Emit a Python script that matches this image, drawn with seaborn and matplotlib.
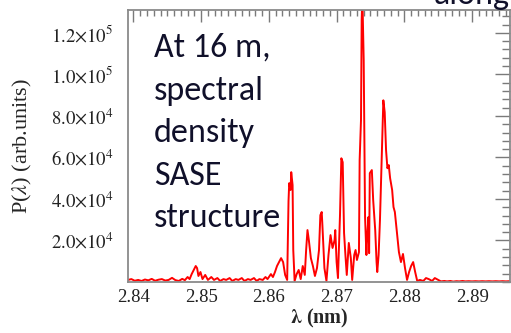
import matplotlib
matplotlib.use("Agg")
import matplotlib.pyplot as plt
import seaborn as sns
import numpy as np
import pandas as pd
from matplotlib.ticker import MultipleLocator, FixedLocator, FixedFormatter

# ---------------- data ----------------
wavelength_nm = [
    2.8392, 2.8397, 2.8402, 2.8407, 2.8412, 2.8417, 2.8422, 2.8427, 2.8432, 2.8437,
    2.8442, 2.8447, 2.8452, 2.8457, 2.8462, 2.8467, 2.8472, 2.8476, 2.8480, 2.8483,
    2.8486, 2.8489, 2.8492, 2.8494, 2.8496, 2.8499, 2.8502, 2.8506, 2.8510, 2.8515,
    2.8519, 2.8524, 2.8528, 2.8533, 2.8537, 2.8542, 2.8546, 2.8551, 2.8555, 2.8560,
    2.8564, 2.8569, 2.8573, 2.8578, 2.8582, 2.8586, 2.8591, 2.8595, 2.8598, 2.8603,
    2.8606, 2.8609, 2.8612, 2.8615, 2.8618, 2.8621, 2.8624, 2.8627, 2.8629, 2.8630,
    2.8632, 2.8633, 2.8635, 2.8636, 2.8638, 2.8641, 2.8644, 2.8647, 2.8650, 2.8653,
    2.8655, 2.8657, 2.8659, 2.8662, 2.8665, 2.8668, 2.8671, 2.8674, 2.8676, 2.8678,
    2.8679, 2.8682, 2.8685, 2.8688, 2.8691, 2.8694, 2.8697, 2.8698, 2.8700, 2.8702,
    2.8705, 2.8707, 2.8709, 2.8711, 2.8713, 2.8715, 2.8718, 2.8721, 2.8723, 2.8726,
    2.8728, 2.8730, 2.8733, 2.8734, 2.8736, 2.8737, 2.8738, 2.8740, 2.8741, 2.8742,
    2.8744, 2.8745, 2.8747, 2.8748, 2.8749, 2.8752, 2.8754, 2.8756, 2.8757, 2.8759,
    2.8760, 2.8762, 2.8764, 2.8766, 2.8769, 2.8771, 2.8773, 2.8775, 2.8777, 2.8779,
    2.8782, 2.8784, 2.8786, 2.8789, 2.8792, 2.8795, 2.8798, 2.8801, 2.8804, 2.8807,
    2.8810, 2.8813, 2.8816, 2.8819, 2.8823, 2.8828, 2.8832, 2.8836, 2.8841, 2.8845,
    2.8850, 2.8854, 2.8859, 2.8863, 2.8868, 2.8872, 2.8877, 2.8881, 2.8886, 2.8890,
    2.8895, 2.8900, 2.8905, 2.8910, 2.8915, 2.8920, 2.8925, 2.8930, 2.8935, 2.8940,
    2.8945, 2.8950, 2.8956,
]
power_arb = [
    1000, 1400, 600, 1000, 500, 1200, 800, 1500, 600, 1100,
    1400, 700, 1000, 2000, 900, 500, 1500, 900, 2400, 1400,
    3800, 5800, 7700, 6700, 2900, 4800, 1400, 3400, 1000, 2400,
    1000, 1900, 500, 1400, 1000, 1900, 500, 1400, 1000, 1900,
    500, 1400, 1000, 1900, 500, 1400, 1000, 2400, 1400, 3800,
    2400, 4800, 7700, 9600, 11500, 9600, 3400, 1000, 39000, 47600,
    44300, 52900, 46700, 15400, 500, 3800, 5800, 1400, 7700, 3400,
    15400, 25000, 20200, 11500, 7700, 2900, 6700, 15400, 32200, 33700,
    27400, 6700, 500, 13000, 22600, 16400, 20200, 25000, 9600, 1900,
    32200, 59600, 57700, 23600, 13000, 3400, 18800, 11500, 1000, 13000,
    15400, 10600, 14400, 58700, 77900, 126000, 138000, 106800, 66900, 31300,
    13000, 21200, 31300, 13900, 52400, 53900, 39400, 29800, 25000, 9600,
    4800, 13000, 29800, 52400, 87500, 81800, 63500, 54800, 56300, 50000,
    44300, 36100, 33700, 24000, 14400, 9600, 13500, 6700, 1000, 4800,
    7700, 9600, 4800, 500, 1000, 500, 1900, 1400, 500, 1900,
    1000, 300, 500, 300, 500, 200, 400, 300, 500, 300,
    400, 300, 400, 300, 400, 300, 400, 300, 400, 300,
    400, 300, 400,
]
x_ticks = [2.84, 2.85, 2.86, 2.87, 2.88, 2.89]
x_tick_labels = ["2.84", "2.85", "2.86", "2.87", "2.88", "2.89"]
y_ticks = [20000, 40000, 60000, 80000, 100000, 120000]
y_tick_labels = [r"$2.0{\times}10^{4}$", r"$4.0{\times}10^{4}$", r"$6.0{\times}10^{4}$",
                 r"$8.0{\times}10^{4}$", r"$1.0{\times}10^{5}$", r"$1.2{\times}10^{5}$"]
annotation_lines = ["At 16 m,", "spectral", "density", "SASE", "structure"]

df = pd.DataFrame({"wavelength": wavelength_nm, "power": power_arb})

# ---------------- figure ----------------
sns.set_style("white")
plt.rcParams["font.family"] = ["Liberation Serif", "DejaVu Serif"]
plt.rcParams["mathtext.fontset"] = "stix"

W, H = 511, 333
fig = plt.figure(figsize=(W / 100, H / 100), dpi=100)
ax = fig.add_axes([128 / W, 1 - 282 / H, (510 - 128) / W, (282 - 10) / H])

sns.lineplot(data=df, x="wavelength", y="power", ax=ax, color="#ff0000",
             linewidth=1.4, estimator=None, sort=False)

ax.set_xlim(2.8392, 2.8956)
ax.set_ylim(0, 131000)

spine_c = "#8a8a8a"
for s in ax.spines.values():
    s.set_color(spine_c)
    s.set_linewidth(1.3)
    s.set_visible(True)

ax.xaxis.set_major_locator(FixedLocator(x_ticks))
ax.xaxis.set_major_formatter(FixedFormatter(x_tick_labels))
ax.xaxis.set_minor_locator(MultipleLocator(0.001))
ax.yaxis.set_major_locator(FixedLocator(y_ticks))
ax.yaxis.set_major_formatter(FixedFormatter(y_tick_labels))
ax.yaxis.set_minor_locator(MultipleLocator(4000))

ax.tick_params(axis="both", which="both", direction="in", top=True, right=True,
               color="#7a7a7a", width=1.0, labelcolor="#222222")
ax.tick_params(axis="x", which="major", length=8.5, pad=5, labelsize=13.5)
ax.tick_params(axis="x", which="minor", length=4.5)
ax.tick_params(axis="y", which="major", length=11, pad=10.5, labelsize=13.5)
ax.tick_params(axis="y", which="minor", length=6)

ax.set_xlabel(r"$\boldsymbol{\lambda}$ (nm)", fontsize=14.5, fontweight="bold", labelpad=1)
ax.set_ylabel(r"P($\lambda$) (arb.units)", fontsize=16, labelpad=12)

# big annotation text, one line per row
txt_family = ["Carlito", "Lato", "DejaVu Sans"]
for i, line in enumerate(annotation_lines):
    fig.text(154 / W, 1 - (57 + 42.6 * i) / H, line, family=txt_family,
             fontsize=24.5, color="#10102a", va="baseline", ha="left")

# cropped title fragment at top right
fig.text(434 / W, 1 - 4 / H, "along", family=txt_family, fontsize=24.5,
         color="#10102a", va="baseline", ha="left")

fig.savefig("out.png", dpi=100, facecolor="white")
